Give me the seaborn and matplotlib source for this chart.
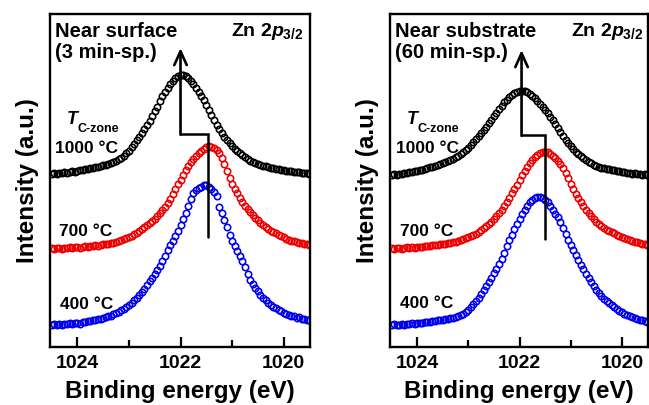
import numpy as np
import pandas as pd
import matplotlib
matplotlib.use("Agg")
import matplotlib.pyplot as plt
import seaborn as sns

# Binding-energy grid of the Zn 2p3/2 scans (0.05 eV step)
binding_energy = np.round(np.linspace(1024.5, 1019.5, 101), 2)

# Near surface (3 min sputtering), intensity in a.u. (stacked traces)
surface_1000 = [
    173, 174, 173, 174, 174, 175, 174, 175, 176, 175, 176, 177, 177, 178, 178, 179, 179, 180, 180, 181,
    182, 182, 183, 184, 185, 186, 188, 189, 191, 194, 196, 200, 203, 207, 210, 214, 218, 222, 226, 231,
    236, 240, 246, 251, 255, 259, 263, 266, 269, 271, 272, 272, 271, 269, 266, 263, 259, 255, 251, 247,
    242, 237, 232, 227, 222, 218, 214, 210, 207, 204, 201, 198, 196, 194, 192, 190, 188, 186, 185, 184,
    183, 182, 181, 181, 180, 179, 179, 178, 178, 177, 177, 176, 176, 176, 175, 175, 175, 174, 174, 174,
    173]
surface_700 = [
    99, 98, 99, 99, 98, 99, 99, 100, 99, 100, 100, 99, 100, 101, 100, 101, 101, 102, 101, 102,
    103, 103, 103, 104, 104, 105, 106, 107, 108, 109, 110, 111, 113, 114, 116, 118, 120, 122, 124, 126,
    128, 131, 134, 137, 140, 144, 148, 153, 158, 163, 167, 172, 177, 181, 185, 188, 191, 194, 196, 198,
    200, 201, 200, 199, 197, 194, 189, 183, 176, 169, 163, 158, 154, 149, 145, 141, 138, 135, 132, 129,
    127, 124, 122, 120, 118, 116, 115, 114, 112, 111, 110, 108, 107, 106, 106, 105, 104, 104, 103, 103,
    102]
surface_400 = [
    22, 23, 22, 23, 22, 23, 23, 24, 23, 24, 24, 23, 25, 25, 26, 26, 27, 27, 28, 28,
    29, 30, 31, 31, 33, 34, 35, 37, 38, 40, 42, 44, 47, 49, 52, 55, 58, 62, 66, 69,
    73, 77, 81, 86, 91, 97, 102, 106, 111, 116, 122, 128, 134, 141, 148, 154, 157, 159, 160, 162,
    162, 160, 158, 155, 151, 140, 134, 127, 120, 112, 106, 101, 96, 91, 86, 80, 73, 67, 63, 59,
    56, 52, 49, 47, 44, 42, 40, 39, 37, 36, 34, 33, 32, 31, 31, 29, 30, 28, 28, 27,
    27]

# Near substrate (60 min sputtering)
substrate_1000 = [
    172, 173, 172, 173, 173, 174, 174, 175, 175, 176, 176, 177, 177, 178, 179, 180, 180, 181, 182, 183,
    184, 185, 186, 187, 188, 190, 191, 193, 195, 197, 199, 202, 205, 208, 211, 214, 217, 220, 224, 227,
    231, 234, 238, 241, 245, 247, 250, 252, 254, 255, 256, 256, 256, 255, 253, 251, 249, 246, 243, 240,
    237, 234, 230, 227, 223, 219, 215, 211, 207, 204, 201, 198, 195, 193, 191, 189, 187, 185, 184, 182,
    181, 180, 179, 179, 178, 178, 177, 177, 176, 176, 175, 175, 174, 174, 173, 174, 173, 173, 172, 173,
    172]
substrate_700 = [
    99, 98, 99, 99, 98, 99, 100, 99, 100, 99, 100, 100, 100, 101, 101, 101, 102, 102, 102, 103,
    103, 103, 104, 104, 105, 105, 106, 107, 108, 109, 110, 111, 112, 113, 115, 117, 119, 121, 123, 125,
    128, 131, 134, 137, 141, 145, 149, 154, 158, 162, 167, 172, 176, 180, 184, 187, 190, 192, 194, 195,
    195, 195, 193, 191, 189, 186, 183, 179, 174, 169, 163, 158, 153, 149, 145, 141, 137, 134, 131, 128,
    125, 123, 121, 119, 117, 116, 115, 114, 112, 111, 110, 109, 108, 107, 106, 105, 105, 104, 103, 103,
    102]
substrate_400 = [
    22, 23, 22, 22, 23, 22, 23, 23, 24, 23, 24, 24, 24, 25, 25, 25, 26, 26, 27, 27,
    27, 28, 28, 29, 29, 30, 31, 32, 33, 35, 37, 40, 43, 46, 49, 53, 57, 61, 65, 69,
    74, 78, 83, 88, 94, 101, 107, 112, 118, 123, 128, 133, 137, 141, 145, 147, 149, 150, 150, 149,
    147, 145, 141, 137, 133, 130, 125, 119, 113, 107, 102, 97, 92, 87, 82, 78, 73, 69, 65, 61,
    57, 54, 51, 48, 46, 44, 42, 40, 38, 36, 35, 33, 32, 31, 30, 29, 28, 27, 27, 26,
    25]

temperature_labels = ["1000 \u00b0C", "700 \u00b0C", "400 \u00b0C"]
series_colors = ["#000000", "#ee0000", "#0000ee"]

# Peak positions (eV) of the 1000 and 700 degC traces, marked by the shift arrow
peak_surface = [1022.0, 1021.46]
peak_substrate = [1021.96, 1021.51]

panels = [
    dict(title=["Near surface", "(3 min-sp.)"], series=[surface_1000, surface_700, surface_400],
         peaks=peak_surface),
    dict(title=["Near substrate", "(60 min-sp.)"], series=[substrate_1000, substrate_700, substrate_400],
         peaks=peak_substrate),
]

sns.set_style("white")
plt.rcParams["font.family"] = ["Liberation Sans", "DejaVu Sans"]
plt.rcParams["font.weight"] = "bold"
plt.rcParams["axes.labelweight"] = "bold"
plt.rcParams["text.color"] = "black"
plt.rcParams["axes.labelcolor"] = "black"
plt.rcParams["xtick.color"] = "black"
plt.rcParams["ytick.color"] = "black"
plt.rcParams["mathtext.fontset"] = "custom"
plt.rcParams["mathtext.rm"] = "Liberation Sans:bold"
plt.rcParams["mathtext.bf"] = "Liberation Sans:bold"
plt.rcParams["mathtext.it"] = "Liberation Sans:bold:italic"

W, H = 649, 405
fig = plt.figure(figsize=(W / 100, H / 100), dpi=100)
axes = [
    fig.add_axes([50 / W, 58 / H, 260 / W, 333 / H]),
    fig.add_axes([390 / W, 58 / H, 258 / W, 333 / H]),
]

# text placement per panel (axes fraction)
label_pos = [
    dict(zn=0.973, t=(0.065, 0.670), sub=(0.104, 0.646),
         temps=[(0.019, 0.583), (0.035, 0.333), (0.038, 0.114)], ylab=-0.0865),
    dict(zn=0.981, t=(0.066, 0.670), sub=(0.105, 0.646),
         temps=[(0.023, 0.583), (0.039, 0.333), (0.039, 0.117)], ylab=-0.089),
]
step_levels = [dict(low=110, mid=213, tip=299), dict(low=108, mid=212, tip=297)]

for ax, panel, pos, lev in zip(axes, panels, label_pos, step_levels):
    for vals, col in zip(panel["series"], series_colors):
        df = pd.DataFrame({"be": binding_energy, "counts": vals})
        sns.lineplot(data=df, x="be", y="counts", ax=ax, sort=False, errorbar=None,
                     linestyle="", marker="o", markersize=4.6, markerfacecolor="none",
                     markeredgecolor=col, mew=1.15, color=col, zorder=2)

    # peak-shift guide: step from the 700 degC peak to the 1000 degC peak, arrow upward
    e_hi, e_lo = panel["peaks"]
    ax.plot([e_lo, e_lo, e_hi], [lev["low"], lev["mid"], lev["mid"]], color="k", lw=1.8,
            solid_joinstyle="miter", zorder=4)
    ax.annotate("", xy=(e_hi, lev["tip"]), xytext=(e_hi, lev["mid"] - 0.8),
                arrowprops=dict(arrowstyle="->,head_length=1.0,head_width=0.45", lw=1.9,
                                color="k", shrinkA=0, shrinkB=0), zorder=4)

    ax.set_xlim(1024.53, 1019.49)
    ax.set_ylim(0, 333)
    ax.set_yticks([])
    ax.set_xticks([1024, 1022, 1020])
    ax.set_xticks([1023, 1021], minor=True)
    ax.set_xticklabels(["1024", "1022", "1020"])
    ax.tick_params(axis="x", which="both", direction="in", bottom=True, top=False,
                   width=1.6, labelsize=14, pad=6.0, colors="black")
    ax.tick_params(axis="x", which="major", length=7)
    ax.tick_params(axis="x", which="minor", length=5)
    for sp in ax.spines.values():
        sp.set_linewidth(1.7)
        sp.set_color("k")

    ax.set_xlabel("Binding energy (eV)", fontsize=17.5, fontweight="bold", va="center",
                  color="black")
    ax.xaxis.set_label_coords(0.5, -0.1336)
    ax.set_ylabel("Intensity (a.u.)", fontsize=17.5, fontweight="bold", va="center",
                  color="black")
    ax.yaxis.set_label_coords(pos["ylab"], 0.5)

    tr = ax.transAxes
    ax.text(0.019, 0.931, panel["title"][0], transform=tr, fontsize=14.5, fontweight="bold",
            va="baseline", ha="left", color="black")
    ax.text(0.019, 0.868, panel["title"][1], transform=tr, fontsize=14.5, fontweight="bold",
            va="baseline", ha="left", color="black")
    ax.text(pos["zn"], 0.934, r"Zn 2$\mathit{p}_{\mathit{3/2}}$", transform=tr, fontsize=14,
            fontweight="bold", va="baseline", ha="right", color="black")
    ax.text(pos["t"][0], pos["t"][1], "T", transform=tr, fontsize=13, fontweight="bold",
            fontstyle="italic", va="baseline", ha="left", color="black")
    ax.text(pos["sub"][0], pos["sub"][1], "C-zone", transform=tr, fontsize=9, fontweight="bold",
            va="baseline", ha="left", color="black")
    for (tx, ty), lab in zip(pos["temps"], temperature_labels):
        ax.text(tx, ty, lab, transform=tr, fontsize=12.5, fontweight="bold",
                va="baseline", ha="left", color="black")

fig.savefig("out.png", dpi=100)
